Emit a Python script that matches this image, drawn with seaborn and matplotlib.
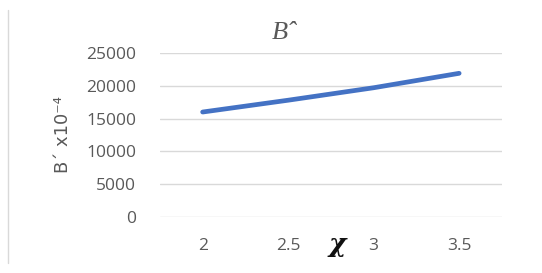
import matplotlib
matplotlib.use("Agg")
import matplotlib.pyplot as plt
import seaborn as sns
import pandas as pd
from matplotlib.lines import Line2D

# data
chi = ["2", "2.5", "3", "3.5"]
b_vals = [16000, 17800, 19700, 21900]
y_ticks = [0, 5000, 10000, 15000, 20000, 25000]

df = pd.DataFrame({"chi": range(len(chi)), "B": b_vals})

sns.set_theme(style="white")
plt.rcParams["font.family"] = ["Open Sans", "DejaVu Sans"]

fig = plt.figure(figsize=(5.42, 2.73), dpi=100)
ax = fig.add_axes([0.295, 0.205, 0.631, 0.601])

sns.lineplot(data=df, x="chi", y="B", ax=ax, color="#4472C4",
             linewidth=3.4, solid_capstyle="round")

ax.set_xlim(-0.5, len(chi) - 0.5)
ax.set_ylim(0, 25000)
ax.set_xticks(range(len(chi)))
ax.set_xticklabels(chi)
ax.set_yticks(y_ticks)
ax.set_yticklabels([str(v) for v in y_ticks])
ax.tick_params(axis="both", length=0, labelsize=12.5, colors="#595959")
ax.tick_params(axis="x", pad=15)
ax.tick_params(axis="y", pad=17)

ax.grid(axis="y", color="#D9D9D9", linewidth=1)
for s in ax.spines.values():
    s.set_visible(False)

ax.set_xlabel("")
ax.set_ylabel("B\u00b4 x10\u207b\u2074", fontsize=13, color="#595959",
              labelpad=10, family=["DejaVu Sans"])

# title and axis symbol
fig.text(0.524, 0.88, "B\u02c6", fontsize=19, family="Liberation Serif",
         style="italic", color="#595959", ha="center", va="center")
fig.text(0.622, 0.105, "\u03c7", fontsize=19, family="DejaVu Serif",
         style="italic", weight="bold", color="#111111", ha="center", va="center")

# thin border at left
fig.add_artist(Line2D([0.015, 0.015], [0.035, 0.965], color="#D9D9D9",
                      linewidth=1, transform=fig.transFigure))

fig.savefig("out.png", dpi=100)
